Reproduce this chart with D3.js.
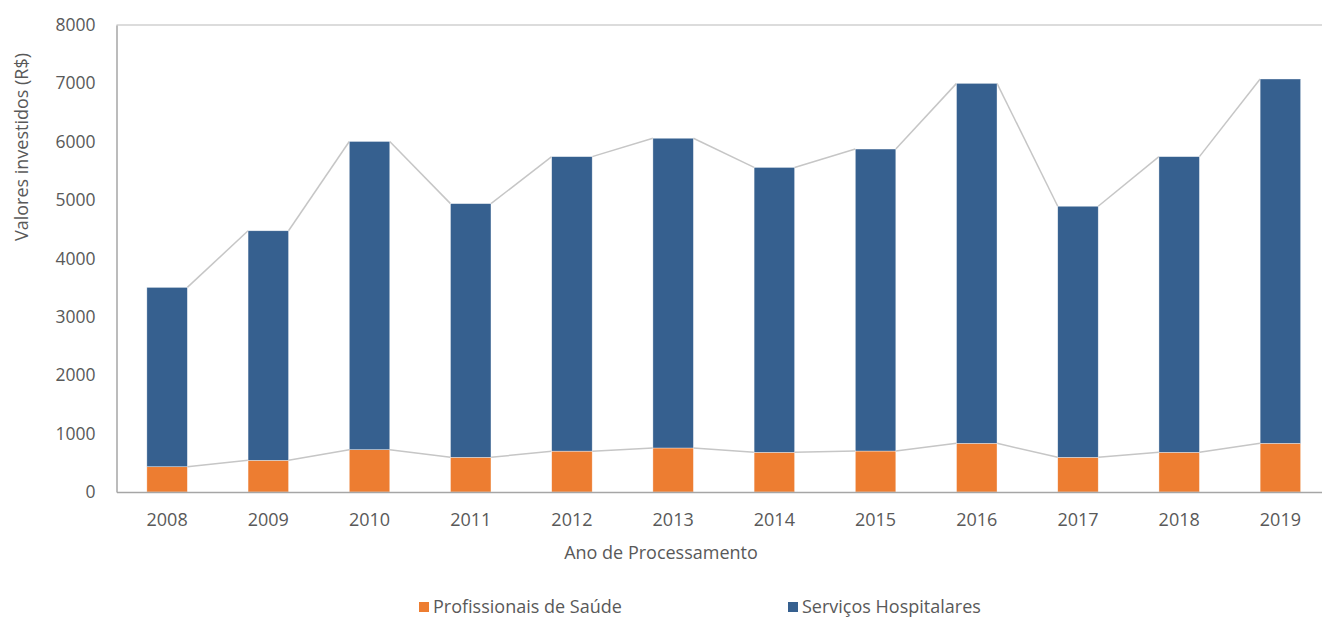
<!DOCTYPE html>
<html>
<head>
<meta charset="utf-8">
<script src="https://cdn.jsdelivr.net/npm/d3@7"></script>
<style>
  html, body { margin: 0; padding: 0; background: #fff; }
  svg text { font-family: "Open Sans", "Noto Sans", sans-serif; fill: #595959; }
</style>
</head>
<body>
<svg id="chart" width="1322" height="618"></svg>
<script>
const years = ["2008","2009","2010","2011","2012","2013","2014","2015","2016","2017","2018","2019"];
const profissionais = [433, 543, 725, 594, 700, 754, 680, 702, 834, 594, 680, 834];
const totals = [3505, 4475, 6005, 4940, 5745, 6060, 5560, 5875, 7000, 4895, 5745, 7075];
const servicos = totals.map((t, i) => t - profissionais[i]);
const yTicks = [0, 1000, 2000, 3000, 4000, 5000, 6000, 7000, 8000];
const seriesNames = ["Profissionais de Saúde", "Serviços Hospitalares"];
const seriesColors = ["#ED7D31", "#36608F"];

(function () {
const svg = d3.select("#chart");
const mLeft = 116.5, mRight = 1331, mTop = 25, mBottom = 492;
const fs = 18;

const x = d3.scaleBand().domain(years).range([mLeft, mRight]).paddingInner(0.6).paddingOuter(0.3);
const y = d3.scaleLinear().domain([0, 8000]).range([mBottom, mTop]);

const rows = years.map((yr, i) => ({ year: yr, p: profissionais[i], s: servicos[i] }));
const stack = d3.stack().keys(["p", "s"])(rows);

// frame: top line
svg.append("line").attr("x1", mLeft).attr("x2", 1322).attr("y1", y(8000)).attr("y2", y(8000))
  .attr("stroke", "#d0d0d0").attr("stroke-width", 1.5);

// series lines connecting stack tops
stack.forEach(layer => {
  const segs = [];
  for (let i = 0; i < layer.length - 1; i++) {
    segs.push([[x(years[i]) + x.bandwidth(), y(layer[i][1])], [x(years[i + 1]), y(layer[i + 1][1])]]);
  }
  svg.append("g").selectAll("path").data(segs).join("path")
    .attr("d", d => d3.line()(d))
    .attr("fill", "none").attr("stroke", "#c6c6c6").attr("stroke-width", 1.5);
});

// bars
svg.append("g").selectAll("g").data(stack).join("g")
  .attr("fill", (d, i) => seriesColors[i])
  .selectAll("rect").data(d => d).join("rect")
  .attr("x", d => x(d.data.year))
  .attr("y", d => y(d[1]))
  .attr("width", x.bandwidth())
  .attr("height", d => y(d[0]) - y(d[1]))
  .attr("stroke", "#ffffff").attr("stroke-width", 0.6).attr("stroke-opacity", 0.6);

// y axis
const yAxis = svg.append("g").attr("transform", `translate(${mLeft},0)`)
  .call(d3.axisLeft(y).tickValues(yTicks).tickSize(0).tickPadding(21).tickFormat(d3.format("d")));
yAxis.select(".domain").attr("stroke", "#a6a6a6").attr("stroke-width", 1.5);
yAxis.selectAll("text").attr("font-size", 17.5).style("fill", "#595959")
  .attr("font-family", "'Open Sans', sans-serif");

// x axis
const xAxis = svg.append("g").attr("transform", `translate(0,${mBottom})`)
  .call(d3.axisBottom(x).tickSize(0).tickPadding(21));
xAxis.select(".domain").attr("stroke", "#a6a6a6").attr("stroke-width", 1.5);
xAxis.selectAll("text").attr("font-size", fs).style("fill", "#595959")
  .attr("font-family", "'Open Sans', sans-serif");

// axis titles
svg.append("text").attr("transform", "translate(28,147) rotate(-90)")
  .attr("text-anchor", "middle").attr("font-size", fs).text("Valores investidos (R$)");
svg.append("text").attr("x", 661).attr("y", 559)
  .attr("text-anchor", "middle").attr("font-size", fs).text("Ano de Processamento");

// legend
const legendX = [419, 788];
const lg = svg.append("g").selectAll("g").data(seriesNames).join("g")
  .attr("transform", (d, i) => `translate(${legendX[i]},602)`);
lg.append("rect").attr("width", 10).attr("height", 10).attr("fill", (d, i) => seriesColors[i]);
lg.append("text").attr("x", 14).attr("y", 11).attr("font-size", fs).text(d => d);
})();
</script>
</body>
</html>
